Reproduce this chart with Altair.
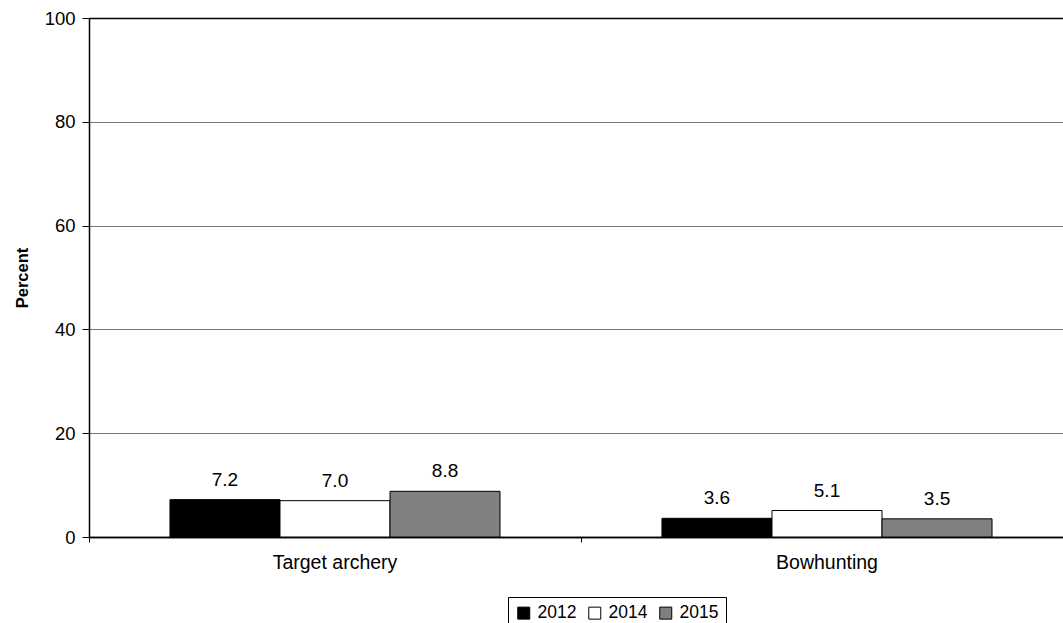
import altair as alt
import pandas as pd

categories = ["Target archery", "Bowhunting"]
years = ["2012", "2014", "2015"]
values_2012 = [7.2, 3.6]
values_2014 = [7.0, 5.1]
values_2015 = [8.8, 3.5]
colors = ["#000000", "#ffffff", "#808080"]

rows = []
for i, c in enumerate(categories):
    for y, vals in zip(years, [values_2012, values_2014, values_2015]):
        rows.append({"category": c, "year": y, "value": vals[i]})
df = pd.DataFrame(rows)

FONT = "Liberation Sans"

x_scale = alt.Scale(domain=categories, range=[0, 984], paddingInner=0, paddingOuter=0)
xoff_scale = alt.Scale(domain=years, paddingInner=0, paddingOuter=0.736)
y_scale = alt.Scale(domain=[0, 100], nice=False)

base = alt.Chart(df)

bars = base.mark_bar(stroke="black", strokeWidth=1).encode(
    x=alt.X("category:N", scale=x_scale, sort=categories, title=None,
            axis=alt.Axis(orient="bottom", ticks=False, labelAngle=0, labelFontSize=19.5,
                          labelFont=FONT, labelColor="black", labelPadding=16,
                          domainColor="black", domainWidth=1.5)),
    xOffset=alt.XOffset("year:N", scale=xoff_scale, sort=years),
    y=alt.Y("value:Q", scale=y_scale, title="Percent",
            axis=alt.Axis(values=[0, 20, 40, 60, 80, 100], labelFontSize=18.5, labelFont=FONT,
                          labelColor="black", labelPadding=7, tickSize=7, tickColor="black",
                          domainColor="black", domainWidth=1.5,
                          titleFont=FONT, titleFontSize=16.5, titleFontWeight="bold",
                          titleColor="black", titlePadding=14,
                          grid=True,
                          gridColor={"condition": {"test": "datum.value === 100", "value": "#000000"},
                                     "value": "#777777"},
                          gridWidth={"condition": {"test": "datum.value === 100", "value": 1.5},
                                     "value": 1})),
    fill=alt.Fill("year:N", scale=alt.Scale(domain=years, range=colors), sort=years,
                  legend=alt.Legend(title=None, orient="none", legendX=419, legendY=579,
                                    direction="horizontal", symbolType="square", symbolSize=144,
                                    symbolStrokeColor="black", symbolStrokeWidth=1,
                                    labelFont=FONT, labelFontSize=17.5, labelColor="black",
                                    labelOffset=5, columnPadding=9,
                                    strokeColor="black", padding=7)),
)

labels = base.mark_text(baseline="bottom", dy=-10, fontSize=19, font=FONT, color="black").encode(
    x=alt.X("category:N", scale=x_scale, sort=categories, title=None,
            axis=alt.Axis(orient="bottom", labels=False, ticks=True, bandPosition=0,
                          tickSize=5, tickColor="black", domainColor="black", domainWidth=1.5)),
    xOffset=alt.XOffset("year:N", scale=xoff_scale, sort=years),
    y=alt.Y("value:Q", scale=y_scale),
    text=alt.Text("value:Q", format=".1f"),
)

chart = alt.layer(bars, labels).resolve_axis(x="independent").properties(
    width=974, height=519,
    autosize=alt.AutoSizeParams(type="none"),
    padding={"left": 89, "top": 18, "right": 0, "bottom": 86},
    background="white",
).configure_view(stroke=None)

chart.save("out.html", embed_options={"renderer": "svg", "actions": False})
